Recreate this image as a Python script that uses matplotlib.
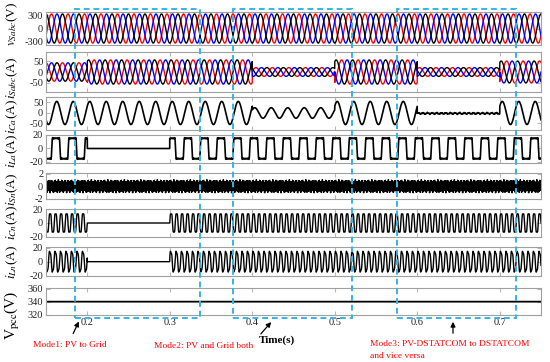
import numpy as np
import matplotlib.pyplot as plt
from matplotlib import transforms
from matplotlib.patches import Rectangle

plt.rcParams['font.family'] = ['Liberation Serif', 'DejaVu Serif']
plt.rcParams['mathtext.fontset'] = 'stix'
plt.rcParams['axes.unicode_minus'] = False

# --- data ------------------------------------------------------------------
t_start, t_end = 0.15, 0.75
f_grid = 50.0

# switching instants and the value held in each interval
edges = [0.15, 0.2, 0.3, 0.4, 0.5, 0.6, 0.7, 0.75]
vs_peak = [325, 325, 325, 325, 325, 325, 325]
is_peak = [42, 55, 55, 20, 55, 20, 50]
is_phase = [-90, -60, -60, 10, -60, 40, -60]      # deg
ic_peak = [55, 55, 55, 25, 55, 0, 55]
ic_idle = [0, 0, 0, 0, 0, 1, 0]
load_on = [1, 0, 1, 1, 1, 1, 1]
vpcc_level = 340

# harmonic content (order / peak) of the load and neutral currents
load_orders = [1, 3, 5, 7, 9, 11]
load_peaks = [19.0, 6.0, 3.4, 2.2, 1.5, 1.0]
neutral_orders = [3, 9]
neutral_peaks = [15.5, 2.5]
ripple_freqs = [2450, 3950, 6150]
ripple_peaks = [0.5, 0.35, 0.25]
idle_freqs = [180, 430, 760]
idle_peaks = [2.5, 1.5, 1.2]

modes = [(0.185, 0.3365), (0.377, 0.521), (0.576, 0.720)]
xticks = [0.2, 0.3, 0.4, 0.5, 0.6, 0.7]

# --- signals ----------------------------------------------------------------
t = np.linspace(t_start, t_end, 12001)
seg = np.clip(np.searchsorted(edges, t, side='right') - 1, 0, len(edges) - 2)
w = 2 * np.pi * f_grid
shifts = np.deg2rad([0, -120, 120])
colors = ['#ff0000', '#0000ff', '#000000']

vs = [np.take(vs_peak, seg) * np.sin(w * t + np.deg2rad(150) + s) for s in shifts]
is_ph = np.deg2rad(np.take(is_phase, seg))
isg = [np.take(is_peak, seg) * np.sin(w * t + is_ph + s) for s in shifts]

idle = sum(p * np.sin(2 * np.pi * f * t) for f, p in zip(idle_freqs, idle_peaks))
ica = np.take(ic_peak, seg) * np.sin(w * t + np.deg2rad(36)) + np.take(ic_idle, seg) * (idle - 2)

on = np.take(load_on, seg)
ila = on * sum(p * np.sin(k * w * (t - 0.157)) for k, p in zip(load_orders, load_peaks))
isn = sum(p * np.sin(2 * np.pi * f * t) for f, p in zip(ripple_freqs, ripple_peaks))
icn = on * sum(p * np.sin(k * w * t) for k, p in zip(neutral_orders, neutral_peaks))
iln = on * sum(p * np.sin(k * w * t + 0.3) for k, p in zip(neutral_orders, neutral_peaks))
vpcc = np.full_like(t, vpcc_level)

# --- figure -------------------------------------------------------------------
W, H = 550, 362
fig = plt.figure(figsize=(W / 100, H / 100), dpi=100)


def px(x, y):
    return (x / W, 1 - y / H)


rows = [(12, 45), (52, 92), (97, 130), (135, 163), (173, 199), (209, 237), (247, 276), (288, 315)]
ylims = [(-368, 368), (-91, 91), (-81, 76), (-21.5, 20), (-2, 2.1), (-20.5, 20.5), (-20.5, 21), (319.5, 361)]
yticks = [[-300, 0, 300], [-50, 0, 50], [-50, 0, 50], [-20, 0, 20], [-2, 0, 2],
          [-20, 0, 20], [-20, 0, 20], [320, 340, 360]]
labels = [r'$v_{Sabc}$(V)', r'$i_{Sabc}$(A)', r'$i_{Ca}$(A)', r'$i_{La}$(A)',
          r'$i_{Sn}$(A)', r'$i_{Cn}$(A)', r'$i_{Ln}$(A)', r'V$_{\rm pcc}$(V)']
label_y = [24, 78, 117, 151, 189, 223, 262, 315]

left, right = 46, 541
axes = []
for (top, bot), yl, yt in zip(rows, ylims, yticks):
    ax = fig.add_axes([left / W, 1 - bot / H, (right - left) / W, (bot - top) / H])
    ax.set_xlim(t_start, t_end)
    ax.set_ylim(*yl)
    ax.set_yticks(yt)
    ax.set_xticks(xticks)
    for sp in ax.spines.values():
        sp.set_color('#a0a0a0')
        sp.set_linewidth(0.8)
    ax.tick_params(direction='in', length=3, color='#b8b8b8', labelsize=7.5,
                   top=True, right=True, pad=2, labelcolor='#222222')
    axes.append(ax)

for ax in axes[:-1]:
    ax.tick_params(labelbottom=False)

for y, c in zip(vs, colors):
    axes[0].plot(t, y, color=c, lw=1.0)
for y, c in zip(isg, colors):
    axes[1].plot(t, y, color=c, lw=1.0)
axes[2].plot(t, ica, color='k', lw=1.2)
axes[3].plot(t, ila, color='k', lw=1.2)
axes[4].plot(t, isn, color='k', lw=0.6)
axes[5].plot(t, icn, color='k', lw=1.0)
axes[6].plot(t, iln, color='k', lw=1.0)
axes[7].plot(t, vpcc, color='k', lw=1.3)

for lab, y in zip(labels, label_y):
    fs = 11 if lab.startswith('V') else 9.5
    fig.text(12 / W, 1 - y / H, lab, rotation=90, ha='center', va='center', fontsize=fs)

# dashed windows for the operating modes
blend = transforms.blended_transform_factory(axes[-1].transData, fig.transFigure)
y0, y1 = 1 - 318 / H, 1 - 9 / H
for a, b in modes:
    fig.add_artist(Rectangle((a, y0), b - a, y1 - y0, transform=blend, fill=False,
                             edgecolor='#33b5e5', lw=1.4, linestyle=(0, (3, 2)),
                             clip_on=False, zorder=5))

arrow = dict(arrowstyle='-|>', color='k', lw=0.9, mutation_scale=7)
axes[-1].annotate('', xy=px(80, 319), xytext=px(72, 336), xycoords='figure fraction', arrowprops=arrow)
axes[-1].annotate('', xy=px(273, 320), xytext=px(259, 336), xycoords='figure fraction', arrowprops=arrow)
axes[-1].annotate('', xy=px(453, 319), xytext=px(453, 336), xycoords='figure fraction', arrowprops=arrow)

fig.text(*px(70, 345), 'Mode1: PV to Grid', color='red', fontsize=6.8, ha='center', va='center')
fig.text(*px(204, 346), 'Mode2: PV and Grid both', color='red', fontsize=6.8, ha='center', va='center')
fig.text(*px(277, 340), 'Time(s)', color='k', fontsize=8, fontweight='bold', ha='center', va='center')
fig.text(*px(370, 344), 'Mode3: PV-DSTATCOM to DSTATCOM', color='red', fontsize=6.8, ha='left', va='center')
fig.text(*px(370, 356), 'and vice versa', color='red', fontsize=6.8, ha='left', va='center')

fig.savefig('out.png', dpi=100)
